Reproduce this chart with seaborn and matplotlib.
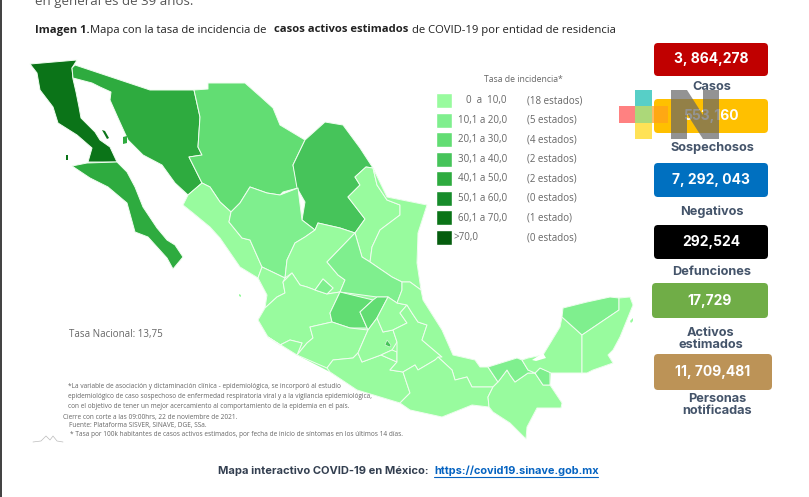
import pandas as pd
import seaborn as sns
import matplotlib.pyplot as plt
from matplotlib.patches import FancyBboxPatch, Polygon, Rectangle

# valores de la leyenda
rangos = ["0  a  10,0", "10,1 a 20,0", "20,1 a 30,0", "30,1 a 40,0", "40,1 a 50,0", "50,1 a 60,0", "60,1 a 70,0", ">70,0"]
conteos = ["(18 estados)", "(5 estados)", "(4 estados)", "(2 estados)", "(2 estados)", "(0 estados)", "(1 estado)", "(0 estados)"]
verdes = ["#98FB9E", "#7FEF8E", "#62DD73", "#46C45A", "#2EAB3F", "#178C2B", "#0B7418", "#055D0E"]

# indicadores
tarjetas = ["3, 864,278", "553,160", "7, 292, 043", "292,524", "17,729", "11, 709,481"]
etiquetas = ["Casos", "Sospechosos", "Negativos", "Defunciones", "Activos\nestimados", "Personas\nnotificadas"]
colores_tarjeta = ["#C00000", "#FFC000", "#0070C0", "#000000", "#70AD47", "#BC9357"]

# clase de incidencia por estado (indice en rangos)
clase = {
    "Baja California": 6, "Baja California Sur": 4, "Sonora": 4, "Chihuahua": 2, "Coahuila": 3,
    "Sinaloa": 0, "Durango": 1, "Zacatecas": 0, "Nuevo Leon": 0, "Tamaulipas": 0, "San Luis Potosi": 1,
    "Nayarit": 0, "Jalisco": 0, "Aguascalientes": 1, "Guanajuato": 2, "Queretaro": 2, "Colima": 0,
    "Michoacan": 0, "Guerrero": 0, "Edomex": 0, "CDMX": 3, "Morelos": 0, "Hidalgo": 0, "Tlaxcala": 0,
    "Puebla": 0, "Veracruz": 0, "Oaxaca": 0, "Chiapas": 0, "Tabasco": 1, "Campeche": 0, "Yucatan": 1,
    "Quintana Roo": 0,
}

# costa del macizo, debajo de los estados para que no queden huecos
costa = [(183,205),(193,213),(210,227),(220,238),(240,267),(258,278),(267,295),(265,308),(258,320),(268,337),(297,355),(330,372),(357,390),(400,403),(442,417),(472,405),(489,407),(493,412),(510,423),(526,439),(527,427),(537,408),(561,408),(562,403),(550,385),(551,373),(587,373),(593,370),(613,363),(608,355),(613,350),(620,337),(633,305),(630,297),(619,298),(587,302),(563,308),(562,317),(560,327),(543,355),(528,358),(522,360),(517,358),(488,367),(480,367),(475,360),(453,355),(442,330),(423,300),(421,290),(417,263),(418,233),(427,205),(387,197),(373,168),(348,197),(315,230),(250,187),(202,183)]

# contornos trazados a mano sobre la imagen
contornos = {
    "Baja California": [(30,64),(77,60),(72,68),(73,79),(76,92),(79,107),(81,118),(95,132),(100,140),(110,147),(117,162),(88,162),(92,148),(77,135),(58,123),(53,107),(40,90),(37,73)],
    "Baja California Sur": [(72,166),(87,163),(117,162),(127,172),(135,187),(143,207),(157,228),(167,240),(175,245),(183,257),(173,269),(167,258),(148,237),(135,232),(127,203),(108,187),(90,178)],
    "Sonora": [(72,68),(75,65),(150,90),(194,90),(200,117),(198,147),(202,155),(189,157),(197,173),(202,183),(188,195),(175,183),(162,165),(143,155),(128,140),(118,118),(110,100),(111,92),(100,87),(92,83),(73,78)],
    "Chihuahua": [(194,90),(208,89),(208,83),(245,83),(262,98),(273,108),(280,125),(305,140),(293,165),(298,188),(283,192),(280,195),(267,193),(250,187),(240,203),(231,212),(220,202),(210,187),(202,183),(197,173),(189,157),(202,155),(198,147),(200,117)],
    "Coahuila": [(305,140),(325,122),(343,125),(360,148),(373,168),(366,167),(355,177),(360,185),(348,197),(365,219),(355,233),(340,228),(318,223),(315,230),(302,220),(305,202),(297,188),(293,165)],
    "Sinaloa": [(202,183),(210,187),(220,202),(231,212),(229,222),(242,238),(250,240),(262,267),(258,278),(240,267),(220,238),(210,227),(193,213),(183,205),(188,195)],
    "Durango": [(250,187),(267,193),(280,195),(298,188),(302,220),(315,230),(305,237),(295,243),(287,260),(285,278),(262,267),(250,240),(242,238),(229,222),(231,212),(240,203)],
    "Zacatecas": [(315,230),(318,223),(340,228),(355,233),(327,262),(338,275),(345,280),(340,292),(327,294),(333,288),(323,279),(315,290),(307,287),(300,285),(292,273),(285,278),(287,260),(295,243),(305,237)],
    "Nuevo Leon": [(366,167),(373,168),(377,185),(387,200),(400,205),(400,215),(380,230),(372,247),(370,262),(362,257),(355,233),(365,219),(348,197),(360,185),(355,177)],
    "Tamaulipas": [(373,168),(387,197),(427,205),(418,233),(417,263),(421,290),(410,282),(402,282),(392,277),(370,262),(372,247),(380,230),(400,215),(400,205),(387,200),(377,185)],
    "San Luis Potosi": [(355,233),(362,257),(370,262),(392,277),(402,282),(402,290),(397,303),(388,297),(377,297),(340,292),(345,280),(338,275),(327,262)],
    "Nayarit": [(258,278),(262,267),(285,278),(283,282),(285,293),(277,297),(265,308),(267,295)],
    "Jalisco": [(265,308),(277,297),(285,293),(283,282),(292,273),(300,285),(307,287),(315,290),(327,294),(340,292),(330,313),(332,322),(310,327),(313,338),(307,343),(297,355),(302,343),(290,340),(280,345),(268,337),(258,320)],
    "Aguascalientes": [(315,290),(323,279),(333,288),(327,294)],
    "Guanajuato": [(340,292),(373,300),(360,312),(367,328),(350,328),(332,322),(330,313)],
    "Queretaro": [(373,300),(377,297),(388,297),(377,318),(368,330),(360,312)],
    "Colima": [(268,337),(280,345),(290,340),(302,343),(297,355)],
    "Michoacan": [(310,327),(332,322),(350,328),(368,330),(358,353),(353,358),(333,360),(327,368),(297,355),(307,343),(313,338)],
    "Guerrero": [(327,368),(333,360),(353,358),(358,353),(362,362),(381,355),(397,362),(390,370),(403,372),(410,393),(400,403),(357,390),(330,372)],
    "Edomex": [(368,330),(377,318),(383,332),(393,330),(397,342),(392,350),(381,355),(362,362),(358,353)],
    "Morelos": [(381,355),(392,350),(397,352),(397,362)],
    "Hidalgo": [(377,318),(388,297),(397,303),(407,305),(400,313),(407,323),(393,330),(383,332)],
    "Tlaxcala": [(400,338),(407,335),(418,340),(408,348)],
    "Puebla": [(407,305),(412,313),(418,322),(427,325),(422,340),(442,357),(435,360),(418,370),(415,365),(403,372),(390,370),(397,362),(397,342),(393,330),(407,323),(400,313)],
    "Veracruz": [(402,282),(410,282),(421,290),(423,300),(442,330),(453,355),(475,360),(480,367),(488,367),(498,382),(493,387),(472,387),(467,377),(455,380),(452,370),(438,357),(442,357),(422,340),(427,325),(418,322),(412,313),(407,305),(397,303),(402,290)],
    "Oaxaca": [(403,372),(415,365),(418,370),(435,360),(438,357),(452,370),(455,380),(467,377),(472,387),(493,387),(488,397),(489,407),(472,405),(442,417),(410,410),(400,403),(410,393)],
    "Chiapas": [(493,387),(498,382),(507,370),(510,375),(515,382),(528,373),(535,373),(543,385),(550,385),(562,403),(561,408),(537,408),(527,427),(526,439),(510,423),(493,412),(489,407),(488,397)],
    "Tabasco": [(488,367),(517,358),(522,360),(528,370),(535,373),(540,368),(550,372),(550,385),(543,385),(535,373),(528,373),(515,382),(510,375),(507,370),(498,382)],
    "Campeche": [(522,360),(528,358),(543,355),(560,327),(562,317),(582,335),(582,373),(551,373),(540,368),(535,373),(528,370)],
    "Yucatan": [(562,317),(563,308),(587,302),(610,297),(619,298),(619,310),(582,335)],
    "Quintana Roo": [(619,298),(630,297),(633,305),(620,337),(613,350),(608,355),(613,363),(593,370),(587,373),(582,373),(582,335),(619,310)],
}
islas = {
    "Baja California": [[(102,130),(105,131),(109,138),(107,139)], [(66,155),(68,155),(68,160),(66,160)]],
    "Sonora": [[(123,137),(127,136),(127,143),(123,144)]],
    "Nayarit": [[(239,294),(241,295),(241,297),(239,296)]],
    "Quintana Roo": [[(630,321),(633,318),(633,321),(631,323)]],
}
cdmx = [(385,345),(387,340),(391,345),(390,347)]

sns.set_theme(style="white")
plt.rcParams["font.family"] = ["Open Sans", "DejaVu Sans"]
TITULAR = ["Inter", "DejaVu Sans"]

fig = plt.figure(figsize=(8.09, 4.97), dpi=100)
ax = fig.add_axes([0, 0, 1, 1])
ax.set_xlim(0, 809)
ax.set_ylim(497, 0)
ax.axis("off")

# mapa
ax.add_patch(Polygon(costa, closed=True, facecolor=verdes[0], edgecolor="none"))
for estado, puntos in contornos.items():
    color = verdes[clase[estado]]
    ax.add_patch(Polygon(puntos, closed=True, facecolor=color, edgecolor="#F0FDF0", lw=0.7, joinstyle="round"))
    for isla in islas.get(estado, []):
        ax.add_patch(Polygon(isla, closed=True, facecolor=color, edgecolor="none"))
ax.add_patch(Polygon(cdmx, closed=True, facecolor=verdes[clase["CDMX"]], edgecolor="#F0FDF0", lw=0.4))
ax.add_patch(Polygon([(532,360),(543,353),(546,358),(536,361)], closed=True, facecolor="white", edgecolor="none"))

# leyenda: cuadros de color con barplot
df_ley = pd.DataFrame({"rango": rangos, "ancho": [1] * len(rangos)})
ax_ley = fig.add_axes([435.5 / 809, 1 - 247.3 / 497, 16 / 809, 156.6 / 497])
sns.barplot(data=df_ley, x="ancho", y="rango", hue="rango", palette=verdes, legend=False,
            width=0.77, saturation=1, ax=ax_ley)
ax_ley.set_xlim(0, 1)
ax_ley.axis("off")

ax.text(523, 80, "Tasa de incidencia*", fontsize=6.2, color="#666666", ha="center", va="center")
for i, (r, c) in enumerate(zip(rangos, conteos)):
    y = 100.7 + i * 19.55
    if r.startswith(">"):
        ax.text(454, y, r, fontsize=7, color="#666666", ha="left", va="center")
    else:
        ax.text(507, y, r, fontsize=7, color="#666666", ha="right", va="center")
    ax.text(527, y, c, fontsize=7, color="#666666", ha="left", va="center")

ax.text(69, 335, "Tasa Nacional: 13,75", fontsize=7, color="#666666", va="center")

# notas al pie
notas = [
    (68, 386, "*La variable de asociación y dictaminación clínica - epidemiológica, se incorporó al estudio"),
    (68, 396, "epidemiológico de caso sospechoso de enfermedad respiratoria viral y a la vigilancia epidemiológica,"),
    (68, 406, "con el objetivo de tener un mejor acercamiento al comportamiento de la epidemia en el país."),
    (63, 418, "Cierre con corte a las 09:00hrs, 22 de noviembre de 2021."),
    (69, 426, "Fuente: Plataforma SISVER, SINAVE, DGE, SSa."),
    (70, 434, "* Tasa por 100k habitantes de casos activos estimados, por fecha de inicio de síntomas en los últimos 14 días."),
]
for x, y, t in notas:
    ax.text(x, y, t, fontsize=4.7, color="#666666", va="center")
ax.plot([33, 41, 46, 50, 53, 57, 63], [442, 441, 436, 440, 436, 441, 442], color="#BBBBBB", lw=0.5)

# encabezado
ax.text(35, 2, "en general es de 39 años.", fontsize=9.5, color="#555555", va="center")
titulo = [(35, "Imagen 1.", "bold"), (90, "Mapa con la tasa de incidencia de", "normal"),
          (274, "casos activos estimados", "bold"), (412, "de COVID-19 por entidad de residencia", "normal")]
for x, t, w in titulo:
    ax.text(x, 30, t, fontsize=8.1, color="#222222", fontweight=w, va="center")

# tarjetas
cajas = [(654, 43, 114, 33), (654, 99, 114, 34), (654, 163, 114, 34), (654, 225, 114, 34), (652, 283, 116, 35), (654, 354, 118, 36)]
pos_etq = [(712, 87), (712, 148), (712, 212), (712, 272), (711, 339), (717, 405)]
for (x, y, w, h), color, valor, etq, (ex, ey) in zip(cajas, colores_tarjeta, tarjetas, etiquetas, pos_etq):
    ax.add_patch(FancyBboxPatch((x + 3, y + 3), w - 6, h - 6, boxstyle="round,pad=3,rounding_size=4",
                                facecolor=color, edgecolor="none", zorder=2))
    ax.text(x + w / 2, y + h / 2, valor, fontsize=10, fontweight="bold", color="white",
            family=TITULAR, ha="center", va="center", zorder=3)
    ax.text(ex, ey, etq, fontsize=9.2, fontweight="bold", color="#44546A", family=TITULAR,
            ha="center", va="center", linespacing=1.05, zorder=3)

# logo encima de las tarjetas
for (x, y, w, h, color, alfa) in [(635, 90, 17, 16, "#4ECDC4", 0.95), (619, 106, 16, 17, "#FF6B6B", 0.85),
                                  (635, 106, 17, 17, "#A8D672", 0.95), (652, 106, 16, 17, "#FF9F1C", 0.7),
                                  (635, 123, 17, 16, "#FFE14D", 0.95)]:
    ax.add_patch(Rectangle((x, y), w, h, facecolor=color, edgecolor="none", alpha=alfa, zorder=4))
ax.add_patch(Polygon([(671, 90), (687, 90), (703, 115), (703, 90), (719, 90), (719, 139), (703, 139),
                      (687, 114), (687, 139), (671, 139)], closed=True, facecolor="#666666", edgecolor="none",
                     alpha=0.7, zorder=4))

# enlace
ax.text(218, 471, "Mapa interactivo COVID-19 en México:", fontsize=8, fontweight="bold", color="#333F50",
        family=TITULAR, va="center")
ax.text(434, 471, "https://covid19.sinave.gob.mx", fontsize=7.9, fontweight="bold", color="#0563C1",
        family=TITULAR, va="center")
ax.plot([434, 598], [477, 477], color="#0563C1", lw=0.8)

# franja izquierda del recorte
ax.add_patch(Rectangle((0, 0), 2, 497, facecolor="#444444", edgecolor="none", zorder=5))

fig.savefig("out.png", dpi=100)
